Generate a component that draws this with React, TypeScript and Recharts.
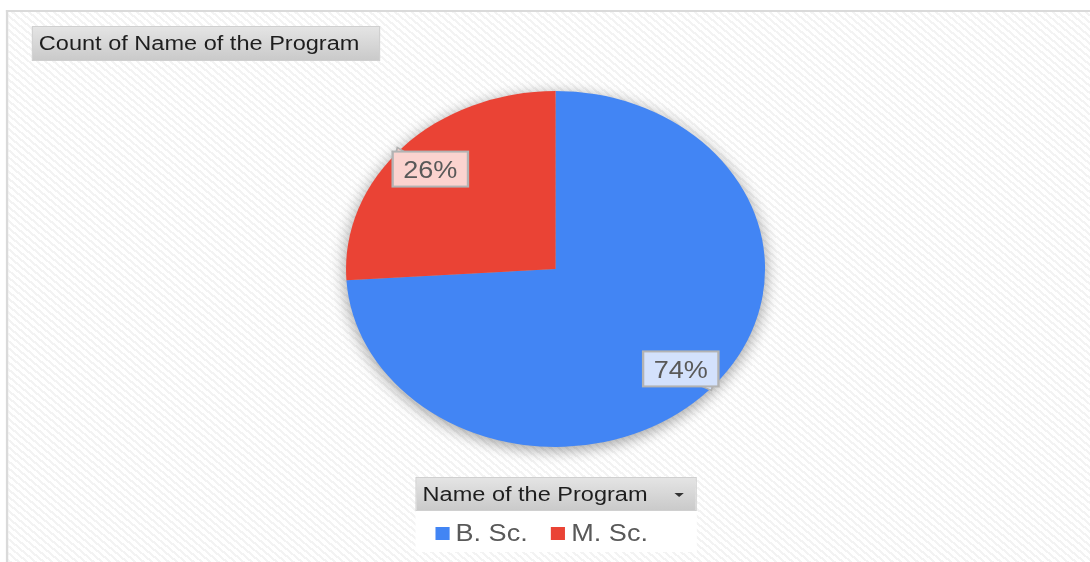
import { PieChart, Pie, Cell, Legend } from "recharts";

// the reference screenshot is stretched sideways, so the chart is drawn narrow and scaled
const STRETCH = 1.177;
const W = 926;
const H = 562;

const programs = ["B. Sc.", "M. Sc."];
const counts = [74, 26];
const sliceColors = ["#4285f4", "#ea4335"];
const labelFills = ["#d3e1fc", "#fbd3cf"];
const SHADOW = "#000000";

const data = programs.map((name, i) => ({ name, value: counts[i] }));

const CX = 472;
const CY = 269;
const R = 178;
const RADIAN = Math.PI / 180;
const FONT = "'Liberation Sans', Arial, sans-serif";

function PercentLabel(props: any) {
  const { cx, cy, midAngle, outerRadius, percent, index } = props;
  const r = outerRadius * 0.82;
  const x = cx + r * Math.cos(-midAngle * RADIAN);
  const y = cy + r * Math.sin(-midAngle * RADIAN);
  const w = 64;
  const h = 35;
  const left = x - w / 2;
  const top = y - h / 2;
  const tail =
    index === 1
      ? `${left + 3},${top + 1} ${left + 11},${top + 1} ${left + 4},${top - 4}`
      : `${left + w - 16},${top + h - 1} ${left + w - 5},${top + h - 1} ${left + w - 6},${top + h + 4}`;
  return (
    <g>
      <polygon points={tail} fill={labelFills[index]} stroke="#b0b0b0" strokeWidth={1.5} />
      <rect x={left} y={top} width={w} height={h} fill={labelFills[index]} stroke="#b3b3b3" strokeWidth={2} />
      <text
        x={x}
        y={y + 1}
        textAnchor="middle"
        dominantBaseline="central"
        fontSize={23}
        fill="#595959"
        fontFamily={FONT}
      >
        {Math.round(percent * 100)}%
      </text>
    </g>
  );
}

function ProgramLegend({ payload }: any) {
  const items = (payload || []).filter((item: any) => item.color !== SHADOW);
  return (
    <div style={{ width: 239, fontFamily: FONT }}>
      <div
        style={{
          height: 34,
          boxSizing: "border-box",
          background: "linear-gradient(#e4e4e4, #cacaca)",
          border: "1px solid #d0d0d0",
          display: "flex",
          alignItems: "center",
          paddingLeft: 5,
          fontSize: 20,
          color: "#1e1e1e",
          position: "relative",
          whiteSpace: "nowrap",
        }}
      >
        Name of the Program
        <span
          style={{
            position: "absolute",
            left: 219,
            top: 15,
            width: 0,
            height: 0,
            borderLeft: "4px solid transparent",
            borderRight: "4px solid transparent",
            borderTop: "4px solid #333",
          }}
        />
      </div>
      <div
        style={{
          height: 41,
          background: "#fff",
          display: "flex",
          alignItems: "center",
          paddingLeft: 17,
          paddingTop: 4,
          boxSizing: "border-box",
          whiteSpace: "nowrap",
        }}
      >
        {items.map((item: any, i: number) => (
          <span
            key={item.value}
            style={{ display: "flex", alignItems: "center", marginRight: i === 0 ? 20 : 0 }}
          >
            <span style={{ width: 12, height: 13, background: item.color, marginRight: 5 }} />
            <span style={{ fontSize: 23, color: "#595959" }}>{item.value}</span>
          </span>
        ))}
      </div>
    </div>
  );
}

export default function App() {
  return (
    <div
      style={{
        position: "absolute",
        left: 0,
        top: 0,
        width: 1090,
        height: 562,
        overflow: "hidden",
        background: "#fff",
      }}
    >
      <style>{`.pie-shadow path { filter: blur(7px); opacity: 0.35; }`}</style>
      <div
        style={{
          position: "absolute",
          left: 0,
          top: 0,
          width: W,
          height: H,
          transform: `scaleX(${STRETCH})`,
          transformOrigin: "0 0",
        }}
      >
        <div
          style={{
            position: "absolute",
            left: 5,
            top: 10,
            width: W + 20,
            height: H + 20,
            borderLeft: "2px solid #dadada",
            borderTop: "2px solid #dadada",
            background:
              "repeating-linear-gradient(45deg, #ffffff 0px, #ffffff 3px, #f3f3f3 3px, #f3f3f3 5px)",
          }}
        />
        <div
          style={{
            position: "absolute",
            left: 27,
            top: 26,
            width: 296,
            height: 35,
            boxSizing: "border-box",
            background: "linear-gradient(#e4e4e4, #cacaca)",
            border: "1px solid #d0d0d0",
            display: "flex",
            alignItems: "center",
            paddingLeft: 5,
            fontFamily: FONT,
            fontSize: 20,
            color: "#1e1e1e",
            whiteSpace: "nowrap",
          }}
        >
          Count of Name of the Program
        </div>
        <div style={{ position: "absolute", left: 0, top: 0 }}>
          <PieChart width={W} height={H} margin={{ top: 0, right: 0, bottom: 0, left: 0 }}>
            <Pie
              className="pie-shadow"
              data={data}
              dataKey="value"
              nameKey="name"
              cx={CX}
              cy={CY + 3}
              outerRadius={R + 1}
              startAngle={90}
              endAngle={-270}
              stroke="none"
              legendType="none"
              isAnimationActive={false}
            >
              {data.map((d) => (
                <Cell key={d.name} fill={SHADOW} />
              ))}
            </Pie>
            <Pie
              data={data}
              dataKey="value"
              nameKey="name"
              cx={CX}
              cy={CY}
              outerRadius={R}
              startAngle={90}
              endAngle={-270}
              stroke="none"
              label={PercentLabel}
              labelLine={false}
              isAnimationActive={false}
            >
              {data.map((d, i) => (
                <Cell key={d.name} fill={sliceColors[i]} />
              ))}
            </Pie>
            <Legend
              content={<ProgramLegend />}
              wrapperStyle={{ position: "absolute", left: 353, top: 477, width: 239 }}
            />
          </PieChart>
        </div>
      </div>
    </div>
  );
}
